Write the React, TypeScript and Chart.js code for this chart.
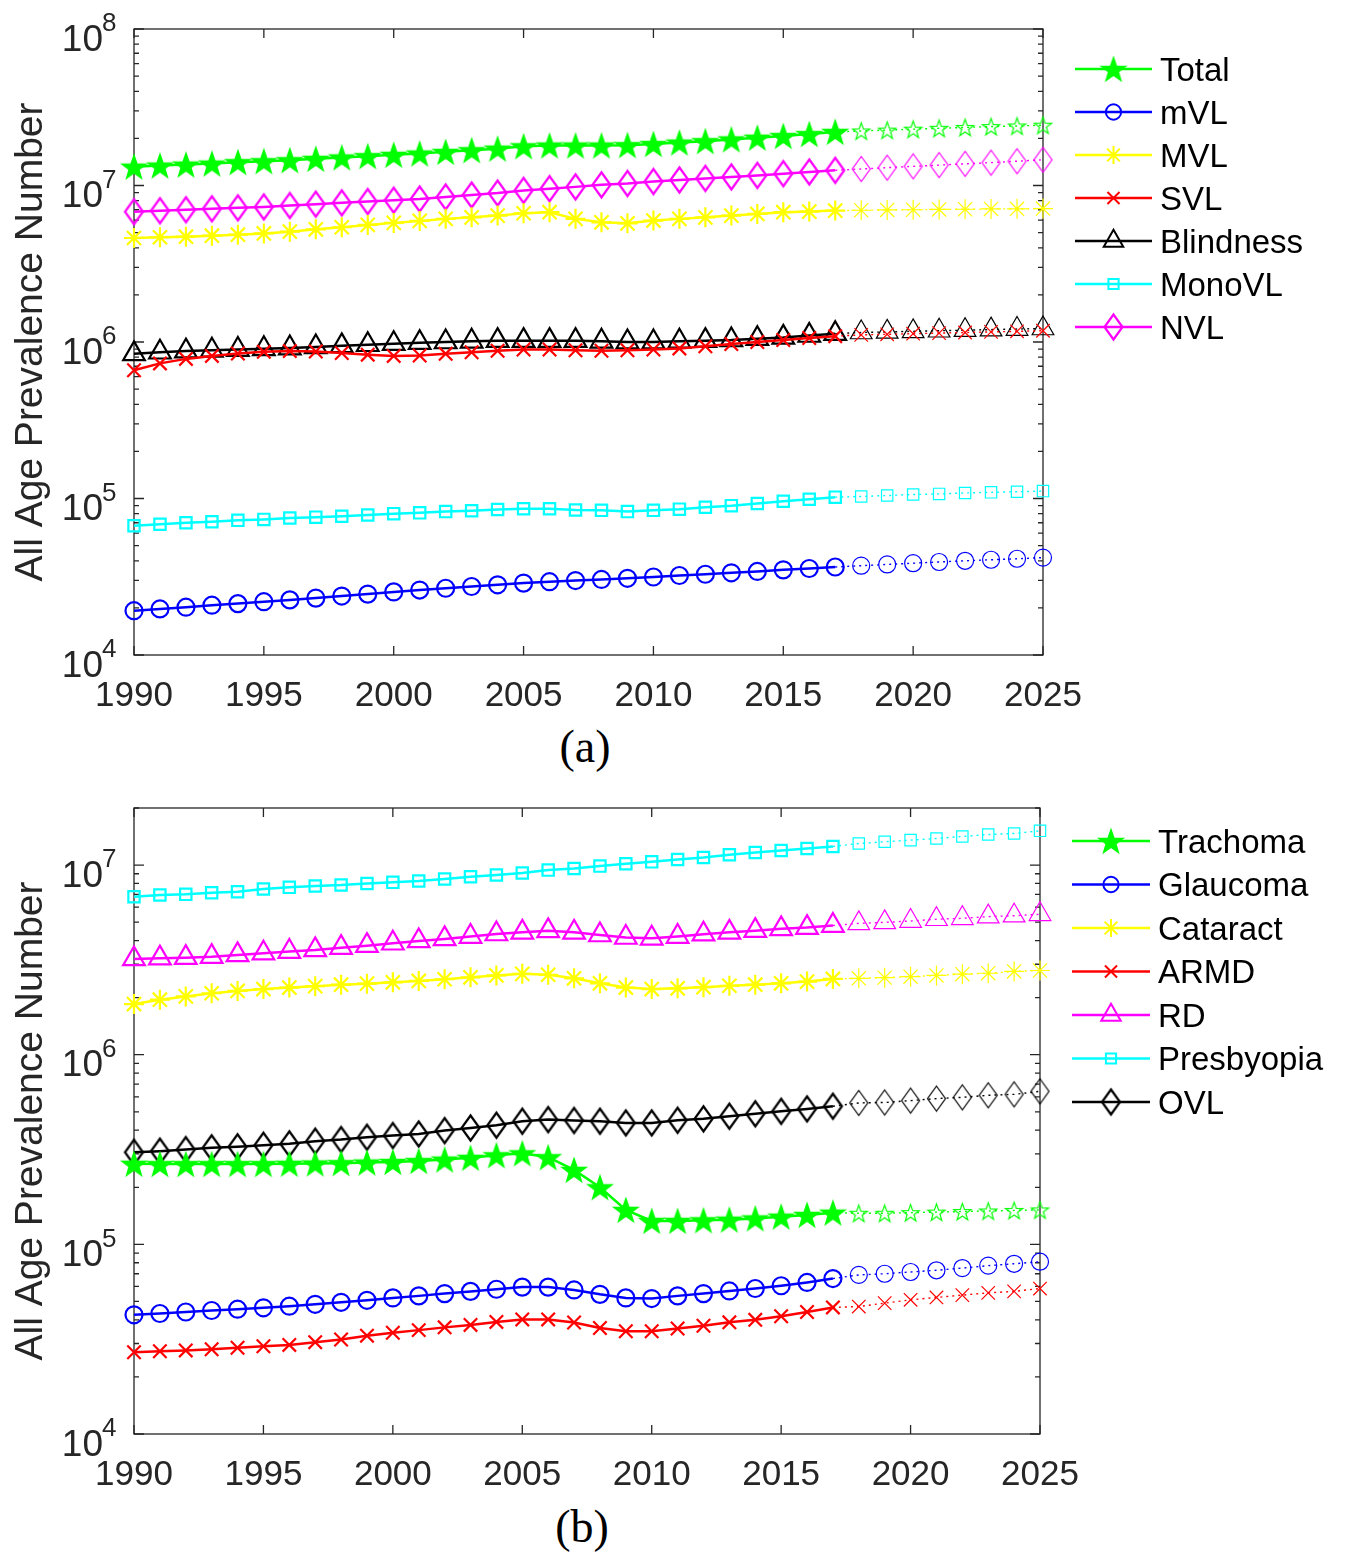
import React, { useEffect, useRef } from 'react';
import { Chart, registerables } from 'chart.js';
import { drawPoint } from 'chart.js/helpers';

Chart.register(...registerables);

// ---------- categories / ticks ----------
const yearsHist = [1990, 1991, 1992, 1993, 1994, 1995, 1996, 1997, 1998, 1999, 2000, 2001, 2002, 2003,
  2004, 2005, 2006, 2007, 2008, 2009, 2010, 2011, 2012, 2013, 2014, 2015, 2016, 2017];
const yearsProj = [2018, 2019, 2020, 2021, 2022, 2023, 2024, 2025];
const xTickValues = [1990, 1995, 2000, 2005, 2010, 2015, 2020, 2025];
const yExpA = [4, 5, 6, 7, 8];
const yExpB = [4, 5, 6, 7];
const yTitle = 'All Age Prevalence Number';

// ---------- panel (a) ----------
const totalHist = [1.32e7, 1.34e7, 1.36e7, 1.38e7, 1.41e7, 1.43e7, 1.45e7, 1.48e7, 1.51e7, 1.54e7, 1.57e7, 1.60e7, 1.64e7, 1.68e7,
  1.72e7, 1.78e7, 1.80e7, 1.80e7, 1.80e7, 1.81e7, 1.84e7, 1.88e7, 1.92e7, 1.97e7, 2.02e7, 2.07e7, 2.13e7, 2.20e7];
const totalProj = [2.23e7, 2.26e7, 2.29e7, 2.32e7, 2.35e7, 2.38e7, 2.40e7, 2.43e7];
const mildHist = [1.92e4, 1.97e4, 2.02e4, 2.08e4, 2.13e4, 2.19e4, 2.25e4, 2.31e4, 2.38e4, 2.45e4, 2.53e4, 2.60e4, 2.67e4, 2.74e4,
  2.81e4, 2.88e4, 2.94e4, 2.99e4, 3.04e4, 3.09e4, 3.15e4, 3.22e4, 3.28e4, 3.35e4, 3.42e4, 3.50e4, 3.57e4, 3.65e4];
const mildProj = [3.72e4, 3.79e4, 3.86e4, 3.93e4, 4.00e4, 4.06e4, 4.12e4, 4.19e4];
const moderateHist = [4.62e6, 4.67e6, 4.71e6, 4.78e6, 4.85e6, 4.94e6, 5.07e6, 5.25e6, 5.41e6, 5.60e6, 5.77e6, 5.94e6, 6.12e6, 6.26e6,
  6.42e6, 6.65e6, 6.75e6, 6.12e6, 5.82e6, 5.73e6, 5.97e6, 6.12e6, 6.26e6, 6.42e6, 6.58e6, 6.75e6, 6.81e6, 6.91e6];
const moderateProj = [6.95e6, 6.98e6, 7.0e6, 7.03e6, 7.05e6, 7.08e6, 7.1e6, 7.12e6];
const severeHist = [6.6e5, 7.3e5, 7.8e5, 8.15e5, 8.45e5, 8.65e5, 8.75e5, 8.7e5, 8.5e5, 8.3e5, 8.15e5, 8.2e5, 8.4e5, 8.6e5,
  8.8e5, 8.95e5, 8.95e5, 8.85e5, 8.8e5, 8.85e5, 8.95e5, 9.1e5, 9.4e5, 9.7e5, 1.0e6, 1.03e6, 1.06e6, 1.09e6];
const severeProj = [1.11e6, 1.12e6, 1.13e6, 1.14e6, 1.15e6, 1.16e6, 1.17e6, 1.18e6];
const blindHist = [8.4e5, 8.6e5, 8.75e5, 8.85e5, 8.95e5, 9.05e5, 9.15e5, 9.3e5, 9.45e5, 9.6e5, 9.75e5, 9.9e5, 1.0e6, 1.01e6,
  1.02e6, 1.02e6, 1.02e6, 1.02e6, 1.01e6, 1.0e6, 1.0e6, 1.01e6, 1.02e6, 1.03e6, 1.05e6, 1.07e6, 1.1e6, 1.13e6];
const blindProj = [1.15e6, 1.16e6, 1.17e6, 1.18e6, 1.19e6, 1.2e6, 1.21e6, 1.22e6];
const monoHist = [6.7e4, 6.85e4, 7.0e4, 7.1e4, 7.25e4, 7.35e4, 7.5e4, 7.6e4, 7.7e4, 7.85e4, 8.0e4, 8.1e4, 8.25e4, 8.35e4,
  8.5e4, 8.6e4, 8.6e4, 8.45e4, 8.4e4, 8.25e4, 8.4e4, 8.55e4, 8.8e4, 9.0e4, 9.3e4, 9.6e4, 9.9e4, 1.02e5];
const monoProj = [1.03e5, 1.045e5, 1.06e5, 1.07e5, 1.085e5, 1.095e5, 1.105e5, 1.115e5];
const nearHist = [6.8e6, 6.9e6, 7.0e6, 7.1e6, 7.2e6, 7.3e6, 7.45e6, 7.6e6, 7.75e6, 7.9e6, 8.05e6, 8.2e6, 8.45e6, 8.7e6,
  8.95e6, 9.3e6, 9.55e6, 9.8e6, 1.01e7, 1.03e7, 1.06e7, 1.085e7, 1.11e7, 1.135e7, 1.16e7, 1.19e7, 1.22e7, 1.25e7];
const nearProj = [1.275e7, 1.3e7, 1.325e7, 1.35e7, 1.375e7, 1.4e7, 1.43e7, 1.46e7];

// ---------- panel (b) ----------
const trachomaHist = [2.66e5, 2.65e5, 2.65e5, 2.65e5, 2.65e5, 2.65e5, 2.66e5, 2.67e5, 2.68e5, 2.70e5, 2.72e5, 2.75e5, 2.80e5, 2.86e5,
  2.95e5, 3.02e5, 2.88e5, 2.47e5, 2.0e5, 1.52e5, 1.33e5, 1.33e5, 1.34e5, 1.35e5, 1.37e5, 1.40e5, 1.43e5, 1.47e5];
const trachomaProj = [1.46e5, 1.46e5, 1.47e5, 1.48e5, 1.49e5, 1.50e5, 1.51e5, 1.52e5];
const glaucomaHist = [4.25e4, 4.32e4, 4.40e4, 4.48e4, 4.55e4, 4.63e4, 4.72e4, 4.83e4, 4.95e4, 5.07e4, 5.22e4, 5.35e4, 5.50e4, 5.65e4,
  5.80e4, 5.95e4, 5.95e4, 5.75e4, 5.45e4, 5.22e4, 5.18e4, 5.35e4, 5.50e4, 5.68e4, 5.85e4, 6.05e4, 6.30e4, 6.60e4];
const glaucomaProj = [6.9e4, 7.0e4, 7.15e4, 7.3e4, 7.5e4, 7.72e4, 7.9e4, 8.1e4];
const cataractHist = [1.85e6, 1.95e6, 2.03e6, 2.11e6, 2.17e6, 2.22e6, 2.26e6, 2.30e6, 2.34e6, 2.37e6, 2.41e6, 2.45e6, 2.50e6, 2.56e6,
  2.62e6, 2.67e6, 2.64e6, 2.53e6, 2.38e6, 2.26e6, 2.22e6, 2.24e6, 2.27e6, 2.31e6, 2.34e6, 2.38e6, 2.43e6, 2.51e6];
const cataractProj = [2.53e6, 2.55e6, 2.58e6, 2.62e6, 2.66e6, 2.69e6, 2.75e6, 2.78e6];
const armdHist = [2.70e4, 2.73e4, 2.76e4, 2.80e4, 2.85e4, 2.90e4, 2.95e4, 3.05e4, 3.15e4, 3.30e4, 3.42e4, 3.53e4, 3.65e4, 3.76e4,
  3.90e4, 4.02e4, 4.02e4, 3.87e4, 3.62e4, 3.48e4, 3.48e4, 3.60e4, 3.72e4, 3.88e4, 4.00e4, 4.18e4, 4.40e4, 4.65e4];
const armdProj = [4.7e4, 4.9e4, 5.1e4, 5.25e4, 5.4e4, 5.55e4, 5.65e4, 5.85e4];
const rdHist = [3.20e6, 3.23e6, 3.25e6, 3.29e6, 3.36e6, 3.43e6, 3.50e6, 3.57e6, 3.67e6, 3.76e6, 3.87e6, 3.98e6, 4.08e6, 4.20e6,
  4.33e6, 4.42e6, 4.50e6, 4.42e6, 4.28e6, 4.15e6, 4.11e6, 4.20e6, 4.32e6, 4.42e6, 4.51e6, 4.61e6, 4.68e6, 4.80e6];
const rdProj = [4.93e6, 4.99e6, 5.07e6, 5.18e6, 5.24e6, 5.35e6, 5.41e6, 5.50e6];
const presHist = [6.81e6, 6.95e6, 7.01e6, 7.15e6, 7.24e6, 7.48e6, 7.63e6, 7.76e6, 7.85e6, 8.0e6, 8.11e6, 8.24e6, 8.44e6, 8.68e6,
  8.86e6, 9.08e6, 9.41e6, 9.6e6, 9.88e6, 1.016e7, 1.04e7, 1.07e7, 1.097e7, 1.133e7, 1.166e7, 1.194e7, 1.224e7, 1.254e7];
const presProj = [1.30e7, 1.327e7, 1.354e7, 1.381e7, 1.416e7, 1.449e7, 1.468e7, 1.516e7];
const ovlHist = [3.06e5, 3.10e5, 3.16e5, 3.23e5, 3.27e5, 3.33e5, 3.39e5, 3.50e5, 3.57e5, 3.67e5, 3.75e5, 3.82e5, 3.98e5, 4.11e5,
  4.25e5, 4.46e5, 4.55e5, 4.50e5, 4.46e5, 4.37e5, 4.37e5, 4.51e5, 4.59e5, 4.74e5, 4.88e5, 5.03e5, 5.18e5, 5.35e5];
const ovlProj = [5.57e5, 5.60e5, 5.73e5, 5.87e5, 5.96e5, 6.11e5, 6.18e5, 6.41e5];

type Marker = 'pentagram' | 'circle' | 'asterisk' | 'cross' | 'triangle' | 'square' | 'diamond';
interface Series { label: string; color: string; marker: Marker; hist: number[]; proj: number[] }

const seriesA: Series[] = [
  { label: 'Total', color: '#00FF00', marker: 'pentagram', hist: totalHist, proj: totalProj },
  { label: 'mVL', color: '#0000FF', marker: 'circle', hist: mildHist, proj: mildProj },
  { label: 'MVL', color: '#FFFF00', marker: 'asterisk', hist: moderateHist, proj: moderateProj },
  { label: 'SVL', color: '#FF0000', marker: 'cross', hist: severeHist, proj: severeProj },
  { label: 'Blindness', color: '#000000', marker: 'triangle', hist: blindHist, proj: blindProj },
  { label: 'MonoVL', color: '#00FFFF', marker: 'square', hist: monoHist, proj: monoProj },
  { label: 'NVL', color: '#FF00FF', marker: 'diamond', hist: nearHist, proj: nearProj },
];
const seriesB: Series[] = [
  { label: 'Trachoma', color: '#00FF00', marker: 'pentagram', hist: trachomaHist, proj: trachomaProj },
  { label: 'Glaucoma', color: '#0000FF', marker: 'circle', hist: glaucomaHist, proj: glaucomaProj },
  { label: 'Cataract', color: '#FFFF00', marker: 'asterisk', hist: cataractHist, proj: cataractProj },
  { label: 'ARMD', color: '#FF0000', marker: 'cross', hist: armdHist, proj: armdProj },
  { label: 'RD', color: '#FF00FF', marker: 'triangle', hist: rdHist, proj: rdProj },
  { label: 'Presbyopia', color: '#00FFFF', marker: 'square', hist: presHist, proj: presProj },
  { label: 'OVL', color: '#000000', marker: 'diamond', hist: ovlHist, proj: ovlProj },
];

const FONT = "'Liberation Sans', Arial, Helvetica, sans-serif";
const AXIS_COLOR = '#262626';
const CANVAS_W = 1345;
const CANVAS_H = 720;

// ---------- marker images ----------
function makePentagram(outer: number, color: string, filled: boolean, lw: number): HTMLCanvasElement {
  const size = Math.ceil(outer * 2 + lw * 2 + 4);
  const c = document.createElement('canvas');
  c.width = size; c.height = size;
  const g = c.getContext('2d')!;
  const cx = size / 2, cy = size / 2 + outer * 0.1;
  const inner = outer * 0.4;
  g.beginPath();
  for (let i = 0; i < 10; i++) {
    const r = i % 2 === 0 ? outer : inner;
    const a = -Math.PI / 2 + (i * Math.PI) / 5;
    const px = cx + r * Math.cos(a), py = cy + r * Math.sin(a);
    if (i === 0) g.moveTo(px, py); else g.lineTo(px, py);
  }
  g.closePath();
  if (filled) { g.fillStyle = color; g.fill(); }
  g.strokeStyle = color; g.lineWidth = lw; g.lineJoin = 'miter';
  g.stroke();
  return c;
}
function makeDiamond(hw: number, hh: number, color: string, lw: number): HTMLCanvasElement {
  const w = Math.ceil(hw * 2 + lw * 2 + 4), h = Math.ceil(hh * 2 + lw * 2 + 4);
  const c = document.createElement('canvas');
  c.width = w; c.height = h;
  const g = c.getContext('2d')!;
  const cx = w / 2, cy = h / 2;
  g.beginPath();
  g.moveTo(cx, cy - hh); g.lineTo(cx + hw, cy); g.lineTo(cx, cy + hh); g.lineTo(cx - hw, cy); g.closePath();
  g.strokeStyle = color; g.lineWidth = lw; g.lineJoin = 'miter';
  g.stroke();
  return c;
}

const imgCache: Record<string, HTMLCanvasElement> = {};
function markerSpec(s: Series, proj: boolean): { style: any; radius: number; bw: number } {
  const bw = proj ? 1.2 : 2.2;
  switch (s.marker) {
    case 'pentagram': {
      const key = 'p' + s.color + proj;
      if (!imgCache[key]) imgCache[key] = proj ? makePentagram(9, s.color, false, 1.2) : makePentagram(12.5, s.color, true, 1.5);
      return { style: imgCache[key], radius: 12, bw };
    }
    case 'diamond': {
      const key = 'd' + s.color + proj;
      if (!imgCache[key]) imgCache[key] = makeDiamond(9, 12.5, s.color, proj ? 1.2 : 2.2);
      return { style: imgCache[key], radius: 12, bw };
    }
    case 'circle': return { style: 'circle', radius: 8.5, bw };
    case 'asterisk': return { style: 'star', radius: 10, bw };
    case 'cross': return { style: 'crossRot', radius: 9.5, bw };
    case 'triangle': return { style: 'triangle', radius: 12.5, bw };
    case 'square': return { style: 'rect', radius: 8, bw };
  }
}

interface Panel {
  series: Series[];
  yMax: number;
  exps: number[];
  plotRight: number;
  legend: { x1: number; x2: number; tx: number; y0: number; dy: number };
}

const panelA: Panel = {
  series: seriesA, yMax: 1e8, exps: yExpA, plotRight: 1043,
  legend: { x1: 1075, x2: 1152, tx: 1160, y0: 69, dy: 43.0 },
};
const panelB: Panel = {
  series: seriesB, yMax: 2e7, exps: yExpB, plotRight: 1040,
  legend: { x1: 1072, x2: 1150, tx: 1158, y0: 62, dy: 43.5 },
};

function buildDatasets(p: Panel) {
  const ds: any[] = [];
  p.series.forEach((s) => {
    const mh = markerSpec(s, false);
    const mp = markerSpec(s, true);
    const hist = yearsHist.map((x, i) => ({ x, y: s.hist[i] }));
    const proj = [hist[hist.length - 1], ...yearsProj.map((x, i) => ({ x, y: s.proj[i] }))];
    ds.push({
      label: s.label, data: hist,
      borderColor: s.color, backgroundColor: 'rgba(0,0,0,0)', borderWidth: 2.5,
      pointStyle: mh.style, pointRadius: mh.radius, pointBorderWidth: mh.bw,
      pointBorderColor: s.color, pointBackgroundColor: 'rgba(0,0,0,0)',
      clip: false, tension: 0,
    });
    ds.push({
      label: s.label + ' projection', data: proj,
      borderColor: s.color, backgroundColor: 'rgba(0,0,0,0)', borderWidth: 1.4, borderDash: [2, 4],
      pointStyle: mp.style, pointRadius: (c: any) => (c.dataIndex === 0 ? 0 : mp.radius), pointBorderWidth: mp.bw,
      pointBorderColor: s.color, pointBackgroundColor: 'rgba(0,0,0,0)',
      clip: false, tension: 0,
    });
  });
  return ds;
}

function makeDecor(p: Panel) {
  return {
    id: 'decor',
    beforeDatasetsDraw(chart: any) {
      const { ctx, chartArea: a, scales } = chart;
      const x = scales.x, y = scales.y;
      ctx.save();
      ctx.strokeStyle = AXIS_COLOR;
      ctx.lineWidth = 1.3;
      ctx.setLineDash([]);
      ctx.strokeRect(a.left, a.top, a.right - a.left, a.bottom - a.top);
      ctx.beginPath();
      xTickValues.forEach((v) => {
        const px = x.getPixelForValue(v);
        ctx.moveTo(px, a.bottom); ctx.lineTo(px, a.bottom - 9);
        ctx.moveTo(px, a.top); ctx.lineTo(px, a.top + 9);
      });
      for (let e = 4; e <= 8; e++) {
        for (let m = 1; m <= 9; m++) {
          const v = m * Math.pow(10, e);
          if (v < 1e4 * 0.999 || v > p.yMax * 1.001) continue;
          const py = y.getPixelForValue(v);
          const len = m === 1 ? 10 : 5;
          ctx.moveTo(a.left, py); ctx.lineTo(a.left + len, py);
          ctx.moveTo(a.right, py); ctx.lineTo(a.right - len, py);
        }
      }
      ctx.stroke();
      ctx.restore();
    },
    afterDraw(chart: any) {
      const { ctx, chartArea: a, scales } = chart;
      const y = scales.y;
      ctx.save();
      // y tick labels 10^e
      ctx.fillStyle = AXIS_COLOR;
      ctx.textBaseline = 'alphabetic';
      p.exps.forEach((e) => {
        const py = y.getPixelForValue(Math.pow(10, e));
        ctx.font = `37px ${FONT}`;
        ctx.textAlign = 'right';
        ctx.fillText('10', 103, py + 8.5 + 0.358 * 37);
        ctx.font = `26px ${FONT}`;
        ctx.textAlign = 'left';
        ctx.fillText(String(e), 102, py - 7 + 0.358 * 26);
      });
      // y title
      ctx.save();
      ctx.translate(31, (a.top + a.bottom) / 2);
      ctx.rotate(-Math.PI / 2);
      ctx.font = `39px ${FONT}`;
      ctx.textAlign = 'center';
      ctx.textBaseline = 'middle';
      ctx.fillText(yTitle, 0, 0);
      ctx.restore();
      // legend
      const L = p.legend;
      p.series.forEach((s, i) => {
        const yy = L.y0 + i * L.dy;
        ctx.setLineDash([]);
        ctx.strokeStyle = s.color;
        ctx.lineWidth = 2.5;
        ctx.beginPath();
        ctx.moveTo(L.x1, yy); ctx.lineTo(L.x2, yy);
        ctx.stroke();
        const m = markerSpec(s, false);
        ctx.lineWidth = 2;
        ctx.fillStyle = 'rgba(0,0,0,0)';
        drawPoint(ctx, { pointStyle: m.style, radius: m.radius * 0.9, rotation: 0, borderWidth: 2 } as any, (L.x1 + L.x2) / 2, yy);
        ctx.fillStyle = '#000000';
        ctx.font = `33px ${FONT}`;
        ctx.textAlign = 'left';
        ctx.textBaseline = 'alphabetic';
        ctx.fillText(s.label, L.tx, yy + 0.358 * 33);
      });
      ctx.restore();
    },
  };
}

function PanelChart({ panel, top }: { panel: Panel; top: number }) {
  const ref = useRef<HTMLCanvasElement>(null);
  useEffect(() => {
    const canvas = ref.current!;
    const chart = new Chart(canvas, {
      type: 'line',
      data: { datasets: buildDatasets(panel) },
      options: {
        animation: false,
        responsive: false,
        devicePixelRatio: 1,
        parsing: true,
        layout: { padding: { left: 134, right: CANVAS_W - panel.plotRight, top: 29, bottom: 0 } },
        plugins: { legend: { display: false }, tooltip: { enabled: false } },
        scales: {
          x: {
            type: 'linear', min: 1990, max: 2025,
            grid: { display: false, drawTicks: false },
            border: { display: false },
            afterBuildTicks: (s: any) => { s.ticks = xTickValues.map((v) => ({ value: v })); },
            afterFit: (s: any) => { s.height = 65; },
            ticks: {
              color: AXIS_COLOR, padding: 20, maxRotation: 0, autoSkip: false,
              font: { family: FONT, size: 35 },
              callback: (v: any) => String(v),
            },
          },
          y: {
            type: 'logarithmic', min: 1e4, max: panel.yMax, display: false,
          },
        },
      } as any,
      plugins: [makeDecor(panel)],
    });
    return () => chart.destroy();
  }, []);
  return (
    <canvas
      ref={ref}
      width={CANVAS_W}
      height={CANVAS_H}
      style={{ position: 'absolute', left: 0, top, width: CANVAS_W, height: CANVAS_H }}
    />
  );
}

const captionStyle = (top: number, cx: number): React.CSSProperties => ({
  position: 'absolute', top, left: cx - 60, width: 120, textAlign: 'center',
  fontFamily: "'Liberation Serif', 'Times New Roman', serif", fontSize: 46, lineHeight: '46px', color: '#000',
});

export default function App() {
  return (
    <div style={{ position: 'absolute', left: 0, top: 0, width: 1345, height: 1557, background: '#fff', overflow: 'hidden' }}>
      <PanelChart panel={panelA} top={0} />
      <div style={captionStyle(724, 585)}>(a)</div>
      <PanelChart panel={panelB} top={779} />
      <div style={captionStyle(1504, 582)}>(b)</div>
    </div>
  );
}
